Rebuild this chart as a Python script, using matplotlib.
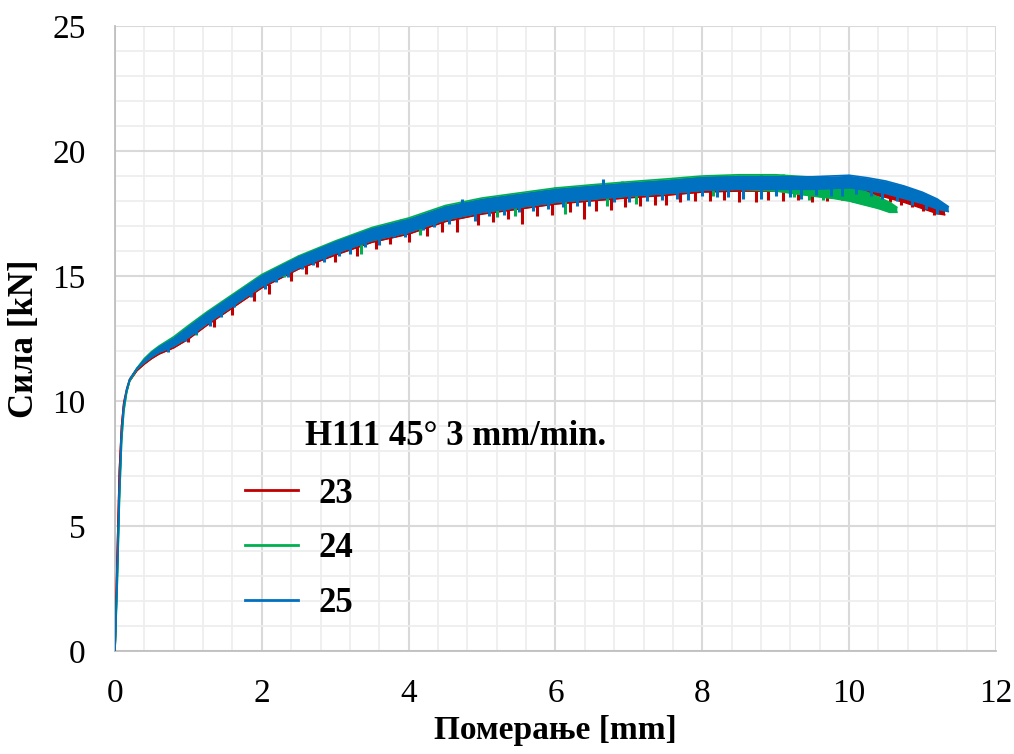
import numpy as np
import matplotlib
matplotlib.use("Agg")
import matplotlib.pyplot as plt
from matplotlib.ticker import MultipleLocator

# --- data: displacement [mm] vs. force band [kN] ---
# specimen 23
x_23 = [0, 0.03, 0.06, 0.09, 0.12, 0.16, 0.2, 0.3, 0.4, 0.5, 0.6, 0.8, 1.0, 1.25, 1.5, 1.75, 2.0,
        2.5, 3.0, 3.5, 4.0, 4.5, 5.0, 5.5, 6.0, 6.5, 7.0, 7.5, 8.0, 8.5, 9.0, 9.5, 10.0, 10.25,
        10.5, 10.75, 11.0, 11.2, 11.3]
hi_23 = [0, 3.8, 7.2, 9.0, 9.95, 10.5, 10.88, 11.3, 11.6, 11.88, 12.1, 12.45, 12.9, 13.45, 13.95,
         14.45, 14.95, 15.7, 16.3, 16.83, 17.2, 17.7, 18.0, 18.2, 18.4, 18.53, 18.65, 18.75,
         18.88, 18.92, 18.92, 18.9, 18.9, 18.8, 18.7, 18.55, 18.3, 18.0, 17.7]
lo_23 = [0, 3.8, 7.2, 9.0, 9.9, 10.4, 10.8, 11.22, 11.48, 11.7, 11.88, 12.13, 12.48, 13.03, 13.53,
         14.03, 14.53, 15.28, 15.84, 16.35, 16.68, 17.18, 17.48, 17.68, 17.88, 18.01, 18.13, 18.23,
         18.36, 18.4, 18.4, 18.38, 18.38, 18.3, 18.15, 17.95, 17.7, 17.5, 17.45]
spk_x_23 = [1.0, 1.35, 1.6, 1.9, 2.1, 2.4, 2.6, 2.75, 3.0, 3.3, 3.55, 3.75, 4.0, 4.25, 4.45, 4.66,
            4.95, 5.15, 5.35, 5.55, 5.75, 5.95, 6.2, 6.39, 6.55, 6.75, 6.95, 7.15, 7.35, 7.5, 7.7,
            7.9, 8.1, 8.3, 8.5, 8.73, 8.9, 9.1, 9.3, 9.5, 9.7, 9.9, 10.1, 10.3, 10.55, 10.7,
            10.85, 11.0, 11.15]
spk_lo_23 = [12.35, 12.95, 13.45, 14.0, 14.3, 14.8, 15.1, 15.35, 15.55, 15.8, 16.1, 16.3, 16.35,
             16.6, 16.75, 16.75, 17.05, 17.15, 17.3, 17.1, 17.4, 17.45, 17.55, 17.3, 17.6, 17.65,
             17.75, 17.8, 17.85, 17.85, 17.95, 18.0, 18.0, 18.05, 17.95, 17.95, 18.05, 18.0,
             18.05, 17.95, 18.0, 18.05, 18.0, 18.05, 17.95, 17.85, 17.75, 17.6, 17.45]
spk_hi_23 = [12.7, 13.3, 13.8, 14.4, 14.7, 15.2, 15.5, 15.7, 15.95, 16.2, 16.5, 16.7, 16.8, 17.0,
             17.2, 17.3, 17.5, 17.6, 17.7, 17.8, 17.9, 18.0, 18.0, 18.0, 18.1, 18.2, 18.2, 18.3,
             18.3, 18.3, 18.4, 18.4, 18.4, 18.4, 18.4, 18.4, 18.4, 18.4, 18.4, 18.4, 18.4, 18.4,
             18.4, 18.4, 18.3, 18.2, 18.1, 17.9, 17.8]

# specimen 24
x_24 = [0, 0.03, 0.06, 0.09, 0.12, 0.16, 0.2, 0.3, 0.4, 0.5, 0.6, 0.8, 1.0, 1.25, 1.5, 1.75, 2.0,
        2.5, 3.0, 3.5, 4.0, 4.5, 5.0, 5.5, 6.0, 6.5, 7.0, 7.5, 8.0, 8.5, 9.0, 9.5, 9.8, 10.0, 10.2,
        10.4, 10.55, 10.65]
hi_24 = [0, 2.6, 6.0, 8.4, 9.6, 10.4, 10.85, 11.32, 11.7, 11.98, 12.2, 12.57, 13.02, 13.56, 14.06,
         14.56, 15.06, 15.8, 16.4, 16.94, 17.32, 17.82, 18.12, 18.32, 18.52, 18.65, 18.77, 18.88,
         19.0, 19.05, 19.05, 18.95, 18.75, 18.6, 18.4, 18.15, 17.95, 17.75]
lo_24 = [0, 2.6, 6.0, 8.4, 9.6, 10.35, 10.8, 11.28, 11.55, 11.77, 11.95, 12.2, 12.55, 13.1, 13.6,
         14.1, 14.6, 15.35, 15.92, 16.42, 16.75, 17.25, 17.55, 17.75, 17.95, 18.08, 18.2, 18.3,
         18.43, 18.47, 18.4, 18.2, 18.1, 18.0, 17.85, 17.7, 17.55, 17.55]
spk_x_24 = [1.3, 1.9, 2.5, 3.2, 3.9, 4.5, 5.4, 6.0, 6.9, 7.6, 8.4, 8.8, 9.1,
            1.1, 2.3, 3.35, 4.15, 5.2, 5.45, 6.13, 6.7, 7.1, 8.15, 9.25, 9.45, 9.65, 10.05]
spk_lo_24 = [13.3, 14.4, 15.4, 16.3, 16.9, 17.4, 17.9, 18.1, 18.4, 18.5, 18.7, 18.7, 18.7,
             12.65, 14.95, 15.9, 16.65, 17.35, 17.4, 17.5, 17.8, 17.9, 18.2, 18.15, 18.05, 18.05,
             17.95]
spk_hi_24 = [13.55, 14.75, 15.85, 16.65, 17.3, 17.85, 18.3, 18.55, 18.8, 18.9, 19.05, 19.1, 19.1,
             13.0, 15.3, 16.3, 17.0, 17.8, 17.8, 18.0, 18.2, 18.3, 18.6, 18.5, 18.5, 18.5, 18.3]

# specimen 25
x_25 = [0, 0.03, 0.06, 0.09, 0.12, 0.16, 0.2, 0.3, 0.4, 0.5, 0.6, 0.8, 1.0, 1.25, 1.5, 1.75, 2.0,
        2.5, 3.0, 3.5, 4.0, 4.5, 5.0, 5.5, 6.0, 6.5, 7.0, 7.5, 8.0, 8.5, 9.0, 9.5, 10.0, 10.25,
        10.5, 10.75, 11.0, 11.2, 11.35]
hi_25 = [0, 3.0, 6.4, 8.7, 9.8, 10.45, 10.85, 11.3, 11.65, 11.93, 12.15, 12.5, 12.95, 13.5, 14.0,
         14.5, 15.0, 15.75, 16.35, 16.88, 17.25, 17.75, 18.05, 18.25, 18.45, 18.58, 18.7, 18.8,
         18.93, 18.97, 18.97, 18.97, 19.03, 18.93, 18.8, 18.6, 18.35, 18.08, 17.78]
lo_25 = [0, 3.0, 6.4, 8.7, 9.8, 10.45, 10.85, 11.3, 11.55, 11.77, 11.95, 12.2, 12.55, 13.1, 13.6,
         14.1, 14.6, 15.33, 15.91, 16.42, 16.75, 17.25, 17.55, 17.75, 17.95, 18.08, 18.2, 18.3,
         18.43, 18.47, 18.47, 18.47, 18.53, 18.43, 18.3, 18.1, 17.9, 17.68, 17.58]
spk_x_25 = [0.72, 0.95, 1.1, 1.3, 1.45, 1.62, 1.85, 2.05, 2.2, 2.35, 2.55, 2.7, 2.85, 3.05, 3.2,
            3.4, 3.6, 3.8, 3.95, 4.2, 4.35, 4.55, 4.73, 4.9, 5.1, 5.3, 5.5, 5.7, 5.9, 6.1, 6.3,
            6.45, 6.65, 6.8, 7.0, 7.25, 7.45, 7.65, 7.8, 8.0, 8.2, 8.35, 8.55, 8.8, 9.0, 9.2,
            9.35, 9.55, 9.75, 9.9, 10.1, 10.3, 10.45, 10.65, 10.85, 11.05, 11.2]
spk_lo_25 = [11.95, 12.4, 12.7, 13.0, 13.35, 13.75, 14.15, 14.5, 14.75, 14.95, 15.3, 15.45, 15.55,
             15.8, 15.9, 16.15, 16.25, 16.55, 16.55, 16.85, 16.95, 17.1, 17.4, 17.2, 17.4, 17.45,
             17.55, 17.6, 17.7, 17.75, 17.8, 17.8, 18.2, 17.95, 17.95, 18.0, 18.05, 18.1, 18.05,
             18.2, 18.15, 18.15, 18.1, 18.1, 18.2, 18.15, 18.1, 18.25, 18.2, 18.2, 18.3, 18.2,
             18.1, 18.0, 17.85, 17.7, 17.5]
spk_hi_25 = [12.3, 12.8, 13.1, 13.4, 13.8, 14.1, 14.5, 14.9, 15.1, 15.4, 15.7, 15.9, 16.05, 16.25,
             16.3, 16.6, 16.75, 17.0, 17.1, 17.35, 17.4, 17.6, 18.1, 17.8, 17.9, 18.0, 18.1,
             18.15, 18.2, 18.3, 18.3, 18.4, 18.9, 18.4, 18.5, 18.5, 18.6, 18.65, 18.7, 18.8,
             18.8, 18.8, 18.8, 18.8, 18.85, 18.8, 18.8, 18.85, 18.9, 18.9, 18.9, 18.8, 18.7,
             18.5, 18.3, 18.1, 17.9]

labels = ["23", "24", "25"]
colors = ["#C00000", "#00B050", "#0070C0"]
title = "H111 45° 3 mm/min."

series = [
    (x_23, hi_23, lo_23, spk_x_23, spk_lo_23, spk_hi_23),
    (x_24, hi_24, lo_24, spk_x_24, spk_lo_24, spk_hi_24),
    (x_25, hi_25, lo_25, spk_x_25, spk_lo_25, spk_hi_25),
]

plt.rcParams["font.family"] = ["Liberation Serif", "DejaVu Serif"]

fig = plt.figure(figsize=(10.14, 7.54), dpi=100)
ax = fig.add_axes([0.1134, 0.1366, 0.8688, 0.8289])

handles = []
for (x, hi, lo, sx, slo, shi), lab, col in zip(series, labels, colors):
    ax.fill_between(x, lo, hi, color=col, linewidth=0, zorder=3)
    ax.plot(x, hi, color=col, lw=1.2, zorder=3)
    ax.plot(x, lo, color=col, lw=1.2, zorder=3)
    ax.vlines(sx, slo, shi, color=col, lw=2.2, zorder=3)
    h, = ax.plot([], [], color=col, lw=2.0, label=lab)
    handles.append(h)

ax.set_xlim(0, 12)
ax.set_ylim(0, 25)
ax.xaxis.set_major_locator(MultipleLocator(2))
ax.xaxis.set_minor_locator(MultipleLocator(0.4))
ax.yaxis.set_major_locator(MultipleLocator(5))
ax.yaxis.set_minor_locator(MultipleLocator(1))
ax.grid(which="minor", color="#eeeeee", lw=1.3, zorder=0)
ax.grid(which="major", color="#d9d9d9", lw=1.5, zorder=1)
ax.set_axisbelow(True)
ax.tick_params(which="both", length=0, labelsize=24)
ax.tick_params(axis="x", pad=20)
ax.tick_params(axis="y", pad=21)
for s in ["top", "right"]:
    ax.spines[s].set_visible(False)
for s in ["left", "bottom"]:
    ax.spines[s].set_color("#bfbfbf")
    ax.spines[s].set_linewidth(1.3)

ax.set_xlabel("Померање [mm]", fontsize=24, fontweight="bold", labelpad=4)
ax.set_ylabel("Сила [kN]", fontsize=25, fontweight="bold", labelpad=8)

leg = ax.legend(handles=handles, loc="upper left", bbox_to_anchor=(0.1476, 0.2776),
                frameon=False, handlelength=1.53, handletextpad=0.58,
                labelspacing=0.63, borderpad=0, borderaxespad=0,
                prop={"weight": "bold", "size": 25})
ax.text(0.216, 0.343, title, transform=ax.transAxes, fontsize=25, fontweight="bold",
        ha="left", va="center")

fig.savefig("out.png", dpi=100)
